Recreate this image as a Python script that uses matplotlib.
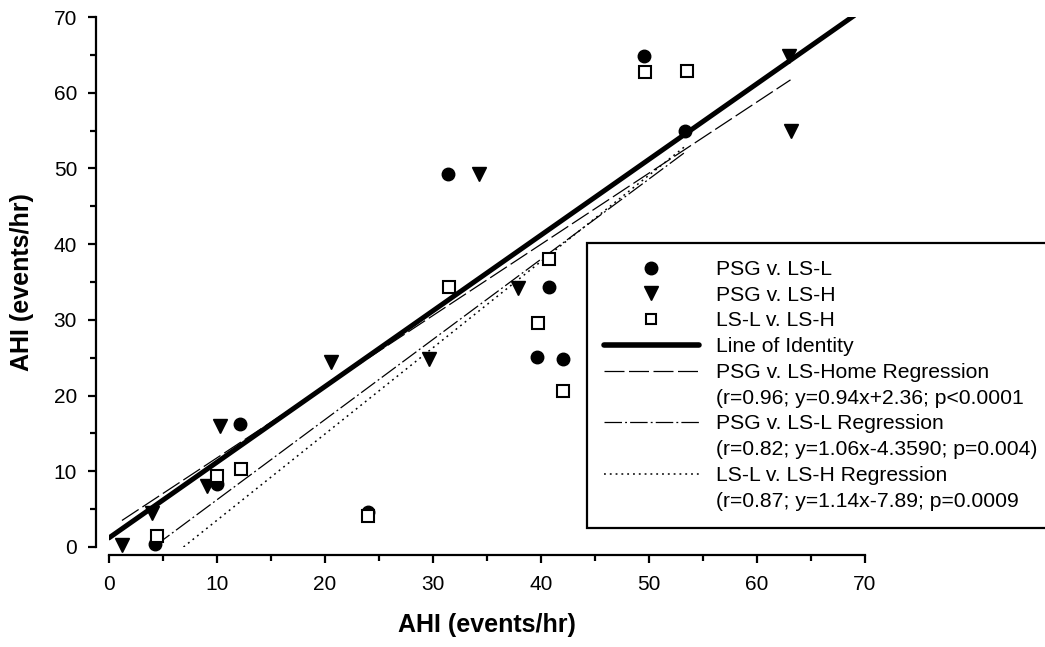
import matplotlib
matplotlib.use("Agg")
import matplotlib.pyplot as plt
from matplotlib.lines import Line2D

plt.rcParams["font.family"] = ["Liberation Sans", "DejaVu Sans"]

# PSG v. LS-L (circles)
psg_lsl_x = [4.3, 10.0, 12.1, 24.0, 31.4, 39.6, 40.7, 42.0, 49.5, 53.3]
psg_lsl_y = [0.4, 8.3, 16.2, 4.6, 49.3, 25.1, 34.4, 24.8, 64.8, 55.0]

# PSG v. LS-H (triangles)
psg_lsh_x = [1.2, 4.0, 9.1, 10.3, 20.6, 29.6, 34.3, 37.9, 63.0, 63.1]
psg_lsh_y = [0.3, 4.5, 8.0, 16.0, 24.4, 24.8, 49.2, 34.2, 64.8, 54.9]

# LS-L v. LS-H (squares)
lsl_lsh_x = [4.4, 10.0, 12.2, 24.0, 31.5, 39.7, 40.7, 42.0, 49.6, 53.5]
lsl_lsh_y = [1.4, 9.4, 10.3, 4.1, 34.3, 29.6, 38.0, 20.6, 62.8, 62.9]

# line end points
identity_x = [0, 69]
identity_y = [1.2, 70.2]
home_reg_x = [1.2, 63.1]
home_reg_y = [3.5, 61.7]
lsl_reg_x = [4.3, 53.3]
lsl_reg_y = [0.2, 52.1]
lslh_reg_x = [6.9, 53.5]
lslh_reg_y = [0.0, 53.1]

labels = [
    "PSG v. LS-L",
    "PSG v. LS-H",
    "LS-L v. LS-H",
    "Line of Identity",
    "PSG v. LS-Home Regression",
    "(r=0.96; y=0.94x+2.36; p<0.0001",
    "PSG v. LS-L Regression",
    "(r=0.82; y=1.06x-4.3590; p=0.004)",
    "LS-L v. LS-H Regression",
    "(r=0.87; y=1.14x-7.89; p=0.0009",
]

fig = plt.figure(figsize=(10.45, 6.47), dpi=100)
ax = fig.add_axes([0.1043, 0.1546, 0.7235, 0.8191])

ax.plot(identity_x, identity_y, color="black", lw=3.6, solid_capstyle="round")
ax.plot(home_reg_x, home_reg_y, color="black", lw=0.9, dashes=(16, 3.6))
ax.plot(lsl_reg_x, lsl_reg_y, color="black", lw=0.9, dashes=(14, 2.5, 1.5, 2.5))
ax.plot(lslh_reg_x, lslh_reg_y, color="black", lw=1.1, dashes=(1.2, 2.6))

ax.plot(psg_lsl_x, psg_lsl_y, "o", color="black", ms=9, clip_on=False, zorder=5)
ax.plot(psg_lsh_x, psg_lsh_y, "v", color="black", ms=10.5, clip_on=False, zorder=5)
ax.plot(lsl_lsh_x, lsl_lsh_y, "s", mfc="white", mec="black", mew=1.5, ms=9,
        clip_on=False, zorder=6)

ax.set_xlim(0, 70)
ax.set_ylim(0, 70)
ax.set_xticks(range(0, 71, 10))
ax.set_yticks(range(0, 71, 10))
ax.set_xticks(range(5, 70, 10), minor=True)
ax.set_yticks(range(5, 70, 10), minor=True)

for side in ("top", "right"):
    ax.spines[side].set_visible(False)
ax.spines["left"].set_position(("outward", 9))
ax.spines["bottom"].set_position(("outward", 6))
ax.spines["left"].set_bounds(0, 70)
ax.spines["bottom"].set_bounds(0, 70)
for side in ("left", "bottom"):
    ax.spines[side].set_linewidth(1.6)

ax.tick_params(which="major", length=6, width=1.6, pad=8, labelsize=15)
ax.tick_params(which="minor", length=4.5, width=1.6)

ax.set_xlabel("AHI (events/hr)", fontsize=18, fontweight="bold", labelpad=14)
ax.set_ylabel("AHI (events/hr)", fontsize=18, fontweight="bold", labelpad=14)

blank = Line2D([], [], linestyle="none", marker=None)
handles = [
    Line2D([], [], linestyle="none", marker="o", color="black", ms=9),
    Line2D([], [], linestyle="none", marker="v", color="black", ms=10),
    Line2D([], [], linestyle="none", marker="s", mfc="white", mec="black",
           mew=1.5, ms=7.5),
    Line2D([], [], color="black", lw=4, solid_capstyle="round"),
    Line2D([], [], color="black", lw=0.9, dashes=(16, 3.6)),
    blank,
    Line2D([], [], color="black", lw=0.9, dashes=(14, 2.5, 1.5, 2.5)),
    blank,
    Line2D([], [], color="black", lw=1.1, dashes=(1.2, 2.6)),
    blank,
]

leg = fig.legend(handles, labels, loc="upper left",
                 bbox_to_anchor=(0.5617, 0.6244), fontsize=15.2,
                 frameon=True, fancybox=False, edgecolor="black",
                 framealpha=1, borderpad=0.8, labelspacing=0.32,
                 handlelength=4.5, handletextpad=0.8, borderaxespad=0)
leg.get_frame().set_linewidth(1.6)

fig.savefig("out.png", dpi=100)
